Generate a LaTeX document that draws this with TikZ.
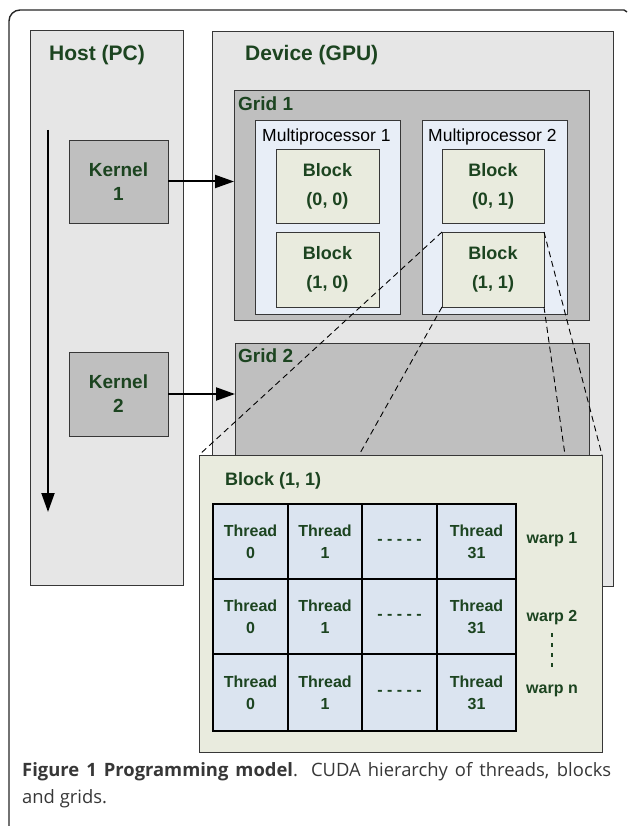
\documentclass[tikz,border=0pt]{standalone}
\usepackage{fontspec}
\setmainfont{Liberation Sans}
\newfontfamily\capfont{Open Sans}
\usetikzlibrary{arrows.meta}
\definecolor{txtgreen}{RGB}{28,68,32}
\definecolor{hostgray}{RGB}{230,230,230}
\definecolor{gridgray}{RGB}{191,191,191}
\definecolor{mpblue}{RGB}{232,238,247}
\definecolor{blkbeige}{RGB}{233,235,222}
\definecolor{thrblue}{RGB}{219,228,240}
\definecolor{edgegray}{RGB}{55,55,55}
\definecolor{capgray}{RGB}{55,55,55}
\begin{document}
\begin{tikzpicture}[x=1pt,y=-1pt,
  box/.style={draw=edgegray,line width=0.9pt,inner sep=0pt,outer sep=0pt},
  bigtitle/.style={anchor=base west,inner sep=0pt,text=txtgreen,font=\fontsize{21}{21}\bfseries},
  gridtitle/.style={anchor=base west,inner sep=0pt,text=txtgreen,font=\fontsize{19}{19}\bfseries},
  mptitle/.style={anchor=base west,inner sep=0pt,font=\fontsize{17.5}{17.5}\selectfont},
  kernelbox/.style={box,fill=gridgray,text=txtgreen,align=center,font=\fontsize{19}{24}\bfseries},
  blockbox/.style={box,fill=blkbeige,text=txtgreen,align=center,font=\fontsize{18}{29}\bfseries},
  thread/.style={draw=black,line width=1.3pt,fill=thrblue,inner sep=0pt,outer sep=0pt,
    text=txtgreen,align=center,font=\fontsize{16}{22}\bfseries},
  warp/.style={inner sep=0pt,text=txtgreen,font=\fontsize{16}{16}\bfseries},
  launch/.style={line width=2pt,-{Triangle[length=19pt,width=13pt]}},
  zoomline/.style={line width=0.9pt,dash pattern=on 6pt off 4pt}]
\useasboundingbox (0,0) rectangle (627,826);
\draw [line width=1.4pt,color=black!85,rounded corners=11pt] (624,10) -- (9,10) -- (9,830);
\draw [line width=1.4pt,color=black!85] (624,10) -- (627,12);
\node [box,fill=hostgray,minimum width=153pt,minimum height=555pt] (host) at (106.5,307.5) {};
\node [bigtitle] (hosttitle) at (49,61) {Host (PC)};
\node [box,fill=hostgray,minimum width=401pt,minimum height=555pt] (device) at (412.5,308.5) {};
\node [bigtitle] (devtitle) at (245,61) {Device (GPU)};
\node [box,fill=gridgray,minimum width=355pt,minimum height=230pt] (grid1) at (411.5,205) {};
\node [gridtitle] (grid1title) at (238,111) {Grid 1};
\node [box,fill=mpblue,minimum width=145pt,minimum height=194pt] (mp1) at (327.5,217) {};
\node [mptitle] (mp1title) at (262,142) {Multiprocessor 1};
\node [box,fill=mpblue,minimum width=145pt,minimum height=194pt] (mp2) at (494.5,217) {};
\node [mptitle] (mp2title) at (428,142) {Multiprocessor 2};
\node [blockbox,minimum width=103pt,minimum height=74pt] (b00) at (327.5,186) {Block\\(0, 0)};
\node [blockbox,minimum width=103pt,minimum height=75pt] (b10) at (327.5,269.5) {Block\\(1, 0)};
\node [blockbox,minimum width=102pt,minimum height=74pt] (b01) at (493,186) {Block\\(0, 1)};
\node [blockbox,minimum width=102pt,minimum height=75pt] (b11) at (493,269.5) {Block\\(1, 1)};
\node [kernelbox,minimum width=99pt,minimum height=83pt] (kernel1) at (118.5,181.5) {Kernel\\1};
\node [kernelbox,minimum width=99pt,minimum height=84pt] (kernel2) at (118.5,394) {Kernel\\2};
\node [box,fill=gridgray,minimum width=354pt,minimum height=127pt] (grid2) at (412,406.5) {};
\node [gridtitle] (grid2title) at (238,362) {Grid 2};
\draw [launch] (kernel1.east) -- (kernel1.east -| grid1.west);
\draw [launch] (kernel2.east) -- (kernel2.east -| grid2.west);
\coordinate (timetop) at (48,130);
\coordinate (timebot) at (48,512);
\draw [launch] (timetop) -- (timebot);
\coordinate (zoomsw) at (359,455);
\coordinate (zoomse) at (565,455);
\draw [zoomline] (b11.north west) -- (199,455);
\draw [zoomline] (b11.south west) -- (zoomsw);
\draw [zoomline] (b11.north east) -- (602,455);
\draw [zoomline] (b11.south east) -- (zoomse);
\node [box,fill=blkbeige,minimum width=403pt,minimum height=297pt] (detail) at (400.5,603.5) {};
\node [anchor=base west,inner sep=0pt,text=txtgreen,font=\fontsize{18}{18}\bfseries] (detailtitle) at (225,485) {Block (1, 1)};
\node [thread,minimum width=75pt,minimum height=75pt] (t00) at (250.5,541.5) {Thread\\0};
\node [thread,minimum width=74pt,minimum height=75pt] (t01) at (325,541.5) {Thread\\1};
\node [thread,minimum width=75pt,minimum height=75pt] (t02) at (399.5,541.5) {- - - - -};
\node [thread,minimum width=79pt,minimum height=75pt] (t03) at (476.5,541.5) {Thread\\31};
\node [thread,minimum width=75pt,minimum height=75pt] (t10) at (250.5,616.5) {Thread\\0};
\node [thread,minimum width=74pt,minimum height=75pt] (t11) at (325,616.5) {Thread\\1};
\node [thread,minimum width=75pt,minimum height=75pt] (t12) at (399.5,616.5) {- - - - -};
\node [thread,minimum width=79pt,minimum height=75pt] (t13) at (476.5,616.5) {Thread\\31};
\node [thread,minimum width=75pt,minimum height=77pt] (t20) at (250.5,692.5) {Thread\\0};
\node [thread,minimum width=74pt,minimum height=77pt] (t21) at (325,692.5) {Thread\\1};
\node [thread,minimum width=75pt,minimum height=77pt] (t22) at (399.5,692.5) {- - - - -};
\node [thread,minimum width=79pt,minimum height=77pt] (t23) at (476.5,692.5) {Thread\\31};
\node [warp] (warp1) at (552,540) {warp 1};
\node [warp] (warp2) at (552,618) {warp 2};
\node [warp] (warpn) at (552,691) {warp n};
\draw [line width=2pt,color=txtgreen,dash pattern=on 4pt off 6pt] (warp2.south) ++(0,8) -- (552,672);
\node [anchor=north west,inner sep=0pt,text=capgray] (caption) at (22,762)
  {\parbox{589pt}{\capfont\fontsize{18.4}{27}\selectfont\textbf{Figure 1 Programming model}. CUDA hierarchy of threads, blocks\linebreak and grids.}};
\end{tikzpicture}
\end{document}
